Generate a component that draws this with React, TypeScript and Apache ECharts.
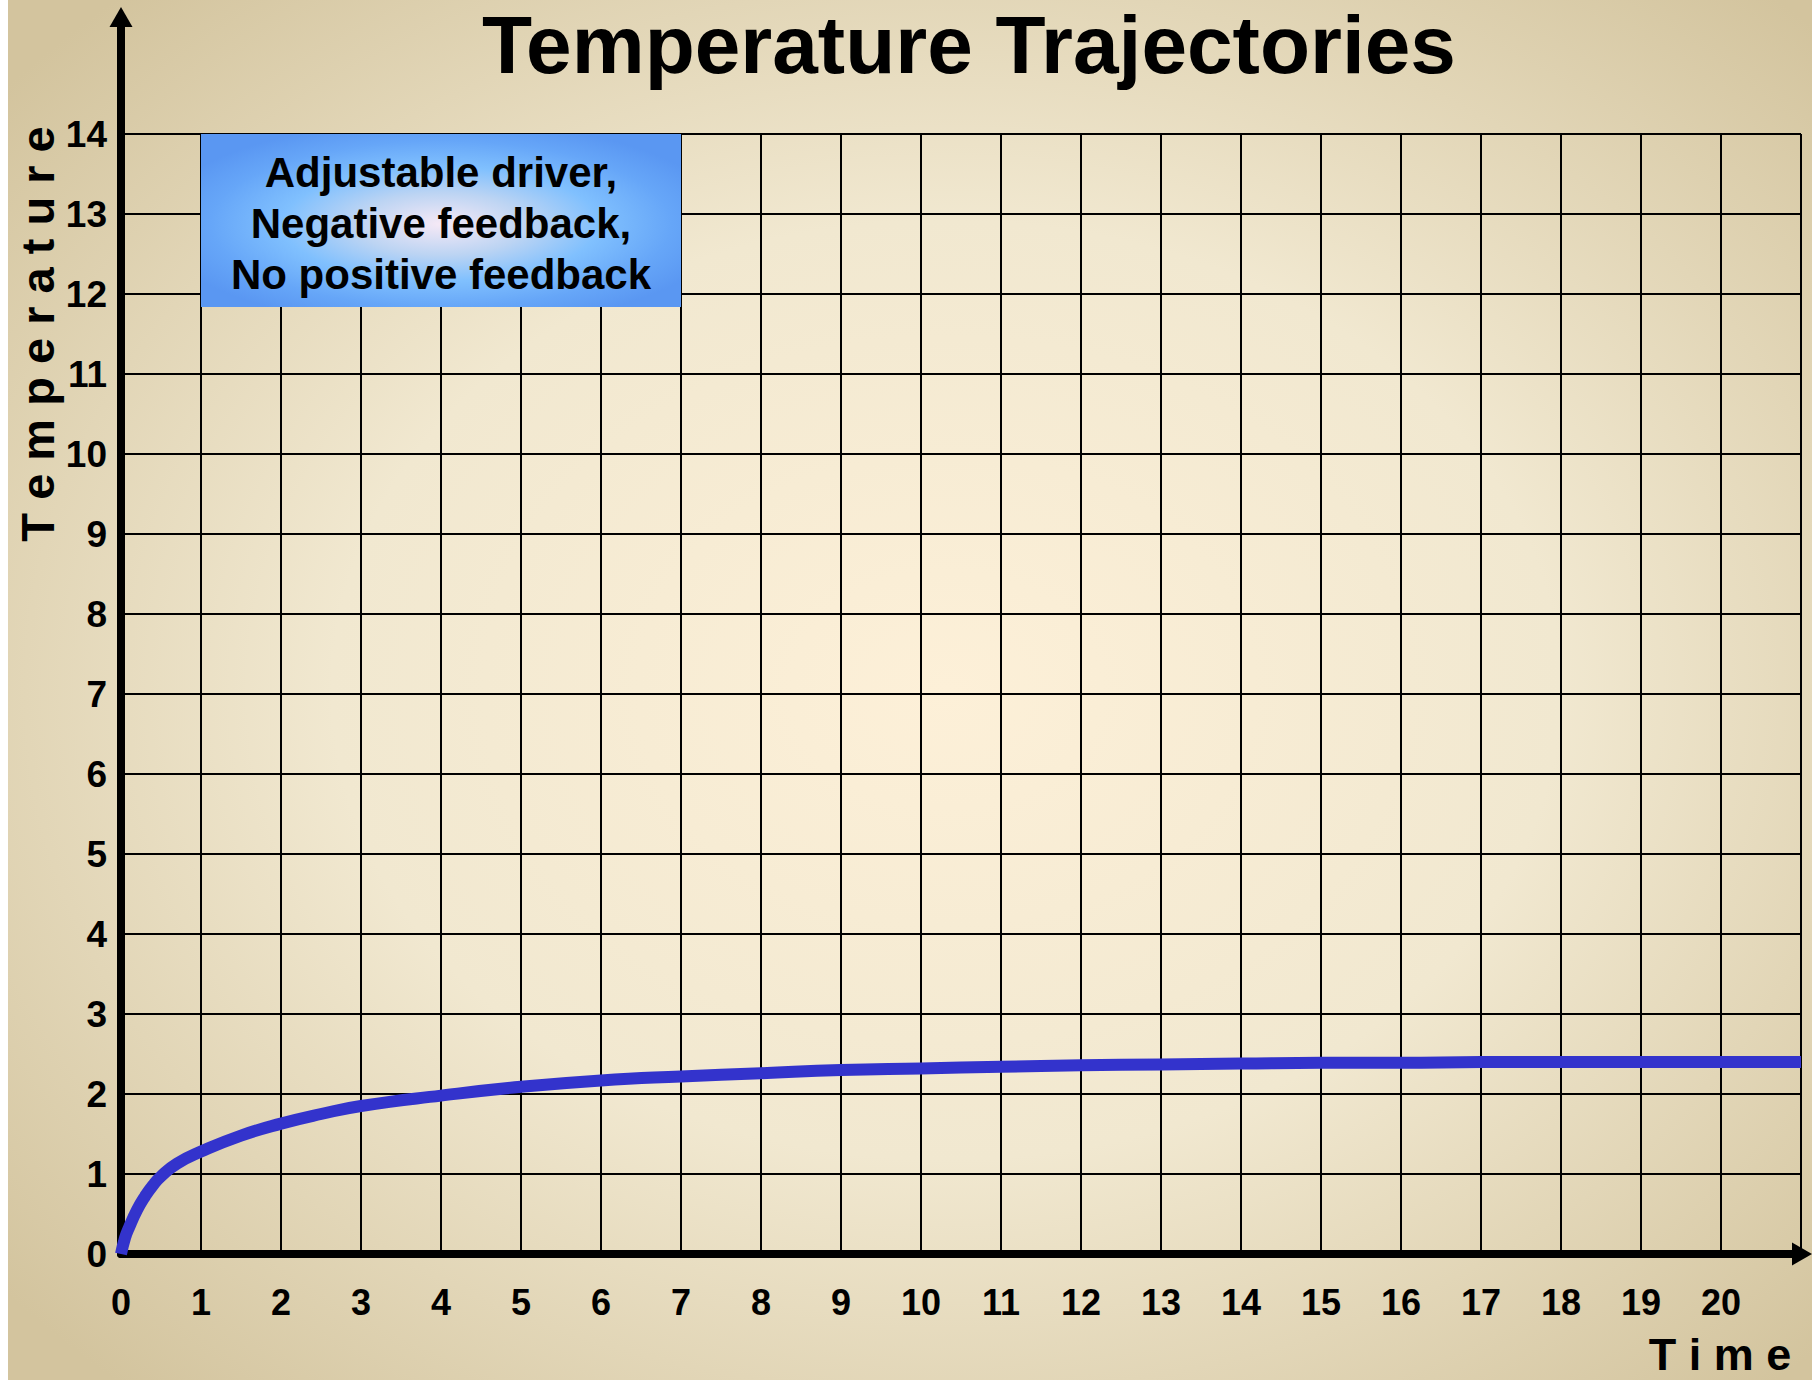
import React, { useEffect, useRef } from "react";
import * as echarts from "echarts";

const timeValues = [0, 0.05, 0.1, 0.2, 0.3, 0.4, 0.5, 0.7, 1, 1.5, 2, 2.5, 3, 4, 5, 6, 7, 8, 9, 10, 11, 12, 13, 14, 15, 16, 17, 18, 19, 20, 21];
const temperatureValues = [0, 0.2, 0.33, 0.55, 0.72, 0.86, 0.97, 1.13, 1.28, 1.48, 1.63, 1.75, 1.85, 1.98, 2.09, 2.17, 2.22, 2.26, 2.3, 2.32, 2.34, 2.36, 2.37, 2.38, 2.39, 2.39, 2.4, 2.4, 2.4, 2.4, 2.4];
const xTickLabels = ["0", "1", "2", "3", "4", "5", "6", "7", "8", "9", "10", "11", "12", "13", "14", "15", "16", "17", "18", "19", "20"];
const yTickLabels = ["0", "1", "2", "3", "4", "5", "6", "7", "8", "9", "10", "11", "12", "13", "14"];
const titleText = "Temperature Trajectories";
const boxLines = ["Adjustable driver,", "Negative feedback,", "No positive feedback"];
const xAxisTitle = "Time";
const yAxisTitle = "Temperature";

const FONT = "'Liberation Sans', Arial, Helvetica, sans-serif";

export default function App() {
  const ref = useRef<HTMLDivElement>(null);
  useEffect(() => {
    if (!ref.current) return;
    const chart = echarts.init(ref.current, undefined, { renderer: "svg" });
    const spaced = (s: string) => s.split("").join(" ");
    const option: any = {
      animation: false,
      grid: [
        { left: 113, right: 11, top: 134, bottom: 126, containLabel: false },
        { left: 113, right: 10, top: 17, bottom: 126, containLabel: false },
      ],
      xAxis: [
        {
          type: "value",
          gridIndex: 0,
          min: 0,
          max: 21,
          interval: 1,
          axisLine: { show: false },
          axisTick: { show: false },
          splitLine: { show: true, lineStyle: { color: "#000", width: 2 } },
          axisLabel: {
            show: true,
            margin: 30,
            color: "#000",
            fontSize: 36,
            fontWeight: "bold",
            fontFamily: FONT,
            showMaxLabel: false,
            formatter: (v: number) => (xTickLabels[v] !== undefined ? xTickLabels[v] : ""),
          },
        },
        {
          type: "value",
          gridIndex: 1,
          min: 0,
          max: 1,
          axisLine: {
            show: true,
            symbol: ["none", "triangle"],
            symbolSize: [23, 20],
            lineStyle: { color: "#000", width: 8 },
          },
          axisTick: { show: false },
          axisLabel: { show: false },
          splitLine: { show: false },
        },
      ],
      yAxis: [
        {
          type: "value",
          gridIndex: 0,
          min: 0,
          max: 14,
          interval: 1,
          axisLine: { show: false },
          axisTick: { show: false },
          splitLine: { show: true, lineStyle: { color: "#000", width: 2 } },
          axisLabel: {
            show: true,
            margin: 14,
            color: "#000",
            fontSize: 37,
            fontWeight: "bold",
            fontFamily: FONT,
            formatter: (v: number) => (yTickLabels[v] !== undefined ? yTickLabels[v] : ""),
          },
        },
        {
          type: "value",
          gridIndex: 1,
          min: 0,
          max: 1,
          axisLine: {
            show: true,
            symbol: ["none", "triangle"],
            symbolSize: [23, 20],
            lineStyle: { color: "#000", width: 8 },
          },
          axisTick: { show: false },
          axisLabel: { show: false },
          splitLine: { show: false },
        },
      ],
      series: [
        {
          type: "line",
          xAxisIndex: 0,
          yAxisIndex: 0,
          data: timeValues.map((t, i) => [t, temperatureValues[i]]),
          smooth: 0.5,
          showSymbol: false,
          symbol: "none",
          z: 5,
          lineStyle: { color: "#3333cc", width: 12, cap: "butt", join: "round" },
        },
      ],
      graphic: [
        {
          type: "rect",
          z: -10,
          silent: true,
          shape: { x: 0, y: 0, width: 1804, height: 1380 },
          style: {
            fill: {
              type: "radial",
              x: 0.52,
              y: 0.5,
              r: 0.68,
              colorStops: [
                { offset: 0, color: "#fdf0d8" },
                { offset: 0.5, color: "#f1e8d0" },
                { offset: 1, color: "#d3c49e" },
              ],
            },
          },
        },
        {
          type: "text",
          z: 10,
          x: 961,
          y: 44,
          style: {
            text: titleText,
            fill: "#000",
            font: `bold 82px ${FONT}`,
            lineHeight: 70,
            textAlign: "center",
            textVerticalAlign: "middle",
          },
        },
        {
          type: "rect",
          z: 10,
          shape: { x: 193, y: 134, width: 480, height: 173 },
          style: {
            fill: {
              type: "radial",
              x: 0.5,
              y: 0.52,
              r: 0.6,
              colorStops: [
                { offset: 0, color: "#f6e9f6" },
                { offset: 0.3, color: "#bcd4f3" },
                { offset: 0.55, color: "#80c0fe" },
                { offset: 0.8, color: "#66a6f8" },
                { offset: 1, color: "#5a97f2" },
              ],
            },
          },
        },
        {
          type: "text",
          z: 11,
          x: 433,
          y: 223,
          style: {
            text: boxLines.join("\n"),
            fill: "#000",
            font: `bold 42px ${FONT}`,
            lineHeight: 51,
            textAlign: "center",
            textVerticalAlign: "middle",
          },
        },
        {
          type: "text",
          z: 10,
          x: 29,
          y: 334,
          rotation: Math.PI / 2,
          style: {
            text: spaced(yAxisTitle),
            fill: "#000",
            font: `bold 47px ${FONT}`,
            textAlign: "center",
            textVerticalAlign: "middle",
          },
        },
        {
          type: "text",
          z: 10,
          x: 1712,
          y: 1354,
          style: {
            text: spaced(xAxisTitle),
            fill: "#000",
            font: `bold 45px ${FONT}`,
            lineHeight: 38,
            textAlign: "center",
            textVerticalAlign: "middle",
          },
        },
      ],
    };
    chart.setOption(option);
    return () => chart.dispose();
  }, []);
  return (
    <div
      ref={ref}
      style={{ position: "absolute", left: 8, top: 0, width: 1804, height: 1380 }}
    />
  );
}
